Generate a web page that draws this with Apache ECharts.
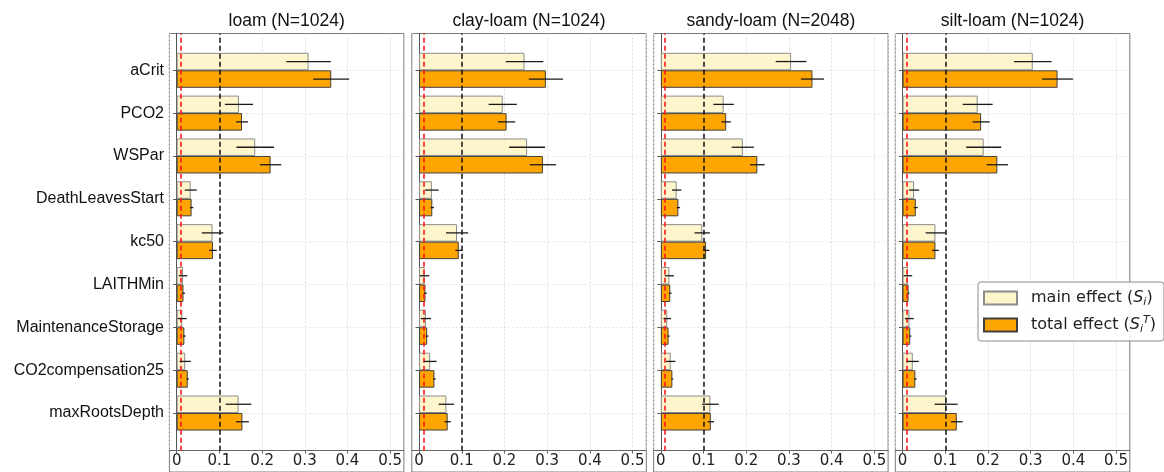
<!DOCTYPE html>
<html>
<head>
<meta charset="utf-8">
<script src="https://cdn.jsdelivr.net/npm/echarts@6/dist/echarts.min.js"></script>
<style>
html,body{margin:0;padding:0;background:#fff;}
#chart{width:1164px;height:472px;}
</style>
</head>
<body>
<div id="chart"></div>
<script>
// ---------------- data ----------------
const categories = ['aCrit', 'PCO2', 'WSPar', 'DeathLeavesStart', 'kc50', 'LAITHMin', 'MaintenanceStorage', 'CO2compensation25', 'maxRootsDepth'];
const panelTitles = ['loam (N=1024)', 'clay-loam (N=1024)', 'sandy-loam (N=2048)', 'silt-loam (N=1024)'];
const seriesNames = ['main effect', 'total effect'];
const thresholds = [0.01, 0.1];

const loamMain      = [0.309, 0.146, 0.184, 0.033, 0.084, 0.015, 0.013, 0.020, 0.145];
const loamMainErr   = [0.052, 0.033, 0.044, 0.014, 0.025, 0.010, 0.0105, 0.013, 0.030];
const loamTotal     = [0.362, 0.153, 0.220, 0.035, 0.085, 0.016, 0.018, 0.026, 0.154];
const loamTotalErr  = [0.042, 0.014, 0.025, 0.004, 0.009, 0.0035, 0.003, 0.0025, 0.015];

const clayMain      = [0.247, 0.196, 0.253, 0.030, 0.089, 0.013, 0.016, 0.026, 0.064];
const clayMainErr   = [0.044, 0.033, 0.042, 0.016, 0.026, 0.011, 0.012, 0.015, 0.018];
const clayTotal     = [0.297, 0.205, 0.290, 0.031, 0.093, 0.015, 0.019, 0.036, 0.067];
const clayTotalErr  = [0.040, 0.020, 0.031, 0.004, 0.008, 0.003, 0.003, 0.003, 0.0075];

const sandyMain     = [0.305, 0.147, 0.192, 0.037, 0.097, 0.020, 0.015, 0.023, 0.116];
const sandyMainErr  = [0.036, 0.024, 0.026, 0.011, 0.018, 0.0105, 0.009, 0.011, 0.0195];
const sandyTotal    = [0.355, 0.153, 0.226, 0.041, 0.106, 0.022, 0.018, 0.027, 0.117];
const sandyTotalErr = [0.027, 0.011, 0.017, 0.004, 0.0075, 0.003, 0.0025, 0.002, 0.0075];

const siltMain      = [0.305, 0.176, 0.190, 0.027, 0.077, 0.0125, 0.016, 0.024, 0.102];
const siltMainErr   = [0.044, 0.035, 0.041, 0.012, 0.023, 0.010, 0.0105, 0.014, 0.027];
const siltTotal     = [0.363, 0.184, 0.222, 0.031, 0.077, 0.014, 0.018, 0.030, 0.127];
const siltTotalErr  = [0.036, 0.020, 0.025, 0.0047, 0.008, 0.002, 0.0025, 0.003, 0.0137];

const panels = [
  {main: loamMain,  mainErr: loamMainErr,  total: loamTotal,  totalErr: loamTotalErr},
  {main: clayMain,  mainErr: clayMainErr,  total: clayTotal,  totalErr: clayTotalErr},
  {main: sandyMain, mainErr: sandyMainErr, total: sandyTotal, totalErr: sandyTotalErr},
  {main: siltMain,  mainErr: siltMainErr,  total: siltTotal,  totalErr: siltTotalErr}
];

// ---------------- layout / style ----------------
const X_MIN = -0.017, X_MAX = 0.5322;
const PANEL_LEFT = [169.4, 411.8, 653.6, 895.3];
const PANEL_W = 234.5;
const FRAME_TOP = 33.5, AXIS_BOTTOM = 450.7;
const CAT_TOP = 70.3, CAT_BOTTOM = 413;
const BAR_W = 17.5;
const COLORS = {main: '#fff5cc', mainEdge: '#8c8c8c', total: '#ffa500', totalEdge: '#404040'};
const SANS = 'Liberation Sans';
const DJV = 'DejaVu Sans';

const grid = [], xAxis = [], yAxis = [], series = [];

panels.forEach((p, k) => {
  const left = PANEL_LEFT[k];
  const gA = grid.length, gB = gA + 1, gC = gA + 2;
  // frame grid
  grid.push({left: left, top: FRAME_TOP, width: PANEL_W, height: 480, show: true,
             borderColor: '#7a7a7a', borderWidth: 1, backgroundColor: 'transparent'});
  // axes grid
  grid.push({left: left, top: FRAME_TOP, width: PANEL_W, height: AXIS_BOTTOM - FRAME_TOP, show: false});
  // bars grid
  grid.push({left: left, top: CAT_TOP, width: PANEL_W, height: CAT_BOTTOM - CAT_TOP, show: false});

  xAxis.push({gridIndex: gA, type: 'value', min: X_MIN, max: X_MAX, position: 'top',
              name: panelTitles[k], nameLocation: 'middle', nameGap: 3,
              nameTextStyle: {fontFamily: SANS, fontSize: 17.5, color: '#111', verticalAlign: 'bottom'},
              axisLine: {show: false, onZero: false}, axisTick: {show: false}, axisLabel: {show: false}, splitLine: {show: false}});
  yAxis.push({gridIndex: gA, type: 'value', min: 0, max: 1, show: false, axisLine: {onZero: false}});

  xAxis.push({gridIndex: gB, type: 'value', min: X_MIN, max: X_MAX, position: 'bottom',
              axisLine: {show: true, onZero: false, lineStyle: {color: '#666', width: 1}},
              axisTick: {show: true, length: 3, lineStyle: {color: '#666'}},
              axisLabel: {show: true, margin: 3, fontFamily: DJV, fontSize: 15, color: '#222',
                          showMinLabel: false, showMaxLabel: false},
              splitLine: {show: true, lineStyle: {color: '#dcdcdc', width: 1, type: [2, 2]}}});
  yAxis.push({gridIndex: gB, type: 'value', min: 0, max: 1,
              axisLine: {show: true, onZero: true, onZeroAxisIndex: gB, lineStyle: {color: '#555', width: 1}},
              axisTick: {show: false}, axisLabel: {show: false}, splitLine: {show: false}});

  xAxis.push({gridIndex: gC, type: 'value', min: X_MIN, max: X_MAX, position: 'bottom',
              axisLine: {show: false, onZero: false}, axisTick: {show: false}, axisLabel: {show: false},
              splitLine: {show: false}});
  yAxis.push({gridIndex: gC, type: 'category', data: categories, inverse: true, boundaryGap: false,
              axisLine: {show: true, onZero: true, onZeroAxisIndex: gC, lineStyle: {color: '#555', width: 1}},
              axisTick: {show: true, length: 3.5, lineStyle: {color: '#555'}},
              axisLabel: {show: k === 0, interval: 0, margin: 5.4, fontFamily: SANS, fontSize: 16, color: '#111'},
              splitLine: {show: true, lineStyle: {color: '#e6e6e6', width: 1, type: [2, 2]}}});

  // threshold lines
  series.push({type: 'line', xAxisIndex: gB, yAxisIndex: gB, data: [], silent: true,
               markLine: {symbol: 'none', silent: true, label: {show: false}, animation: false,
                          data: [
                            {xAxis: thresholds[0], lineStyle: {color: '#ff1a1a', type: [5, 3], width: 1.6}},
                            {xAxis: thresholds[1], lineStyle: {color: '#111', type: [5, 3], width: 1.5}}
                          ]}});

  series.push({type: 'bar', name: seriesNames[0], xAxisIndex: gC, yAxisIndex: gC, data: p.main,
               barWidth: BAR_W, barGap: '0%', clip: false, z: 3,
               itemStyle: {color: COLORS.main, borderColor: COLORS.mainEdge, borderWidth: 1}});
  series.push({type: 'bar', name: seriesNames[1], xAxisIndex: gC, yAxisIndex: gC, data: p.total,
               barWidth: BAR_W, barGap: '0%', clip: false, z: 3,
               itemStyle: {color: COLORS.total, borderColor: COLORS.totalEdge, borderWidth: 1}});

  const errData = [];
  categories.forEach((c, i) => {
    errData.push([p.main[i], i, p.mainErr[i], 0]);
    errData.push([p.total[i], i, p.totalErr[i], 1]);
  });
  series.push({type: 'custom', xAxisIndex: gC, yAxisIndex: gC, data: errData, clip: false, z: 5, silent: true,
               encode: {x: 0, y: 1},
               renderItem: function (params, api) {
                 const v = api.value(0), ci = api.value(1), e = api.value(2), side = api.value(3);
                 const c = api.coord([v, ci]);
                 const lo = api.coord([v - e, ci]);
                 const hi = api.coord([v + e, ci]);
                 const y = c[1] + (side === 0 ? -BAR_W / 2 : BAR_W / 2);
                 return {type: 'line', shape: {x1: lo[0], y1: y, x2: hi[0], y2: y},
                         style: {stroke: '#1a1a1a', lineWidth: 1.3}};
               }});
});

const option = {
  animation: false,
  backgroundColor: '#ffffff',
  grid: grid, xAxis: xAxis, yAxis: yAxis, series: series,
  legend: {
    data: seriesNames, orient: 'vertical', left: 978, top: 282,
    padding: [6, 8, 6, 5], itemWidth: 33, itemHeight: 13, itemGap: 7, icon: 'rect',
    backgroundColor: 'rgba(255,255,255,0.85)', borderColor: '#8a8a8a', borderWidth: 1, borderRadius: 3,
    selectedMode: false,
    formatter: function (name) {
      return name === seriesNames[0] ? 'main effect ({s|S}{sub|i})' : 'total effect ({s|S}{sub|i}{sup|T})';
    },
    textStyle: {
      fontFamily: DJV, fontSize: 16, color: '#222', lineHeight: 20, padding: [0, 0, 0, 9],
      rich: {
        s: {fontFamily: DJV, fontStyle: 'italic', fontSize: 16, lineHeight: 20, color: '#222'},
        sub: {fontFamily: DJV, fontStyle: 'italic', fontSize: 11, lineHeight: 11, verticalAlign: 'bottom', color: '#222'},
        sup: {fontFamily: DJV, fontStyle: 'italic', fontSize: 11, lineHeight: 11, verticalAlign: 'top', color: '#222'}
      }
    }
  }
};

const chart = echarts.init(document.getElementById('chart'));
chart.setOption(option);
</script>
</body>
</html>
